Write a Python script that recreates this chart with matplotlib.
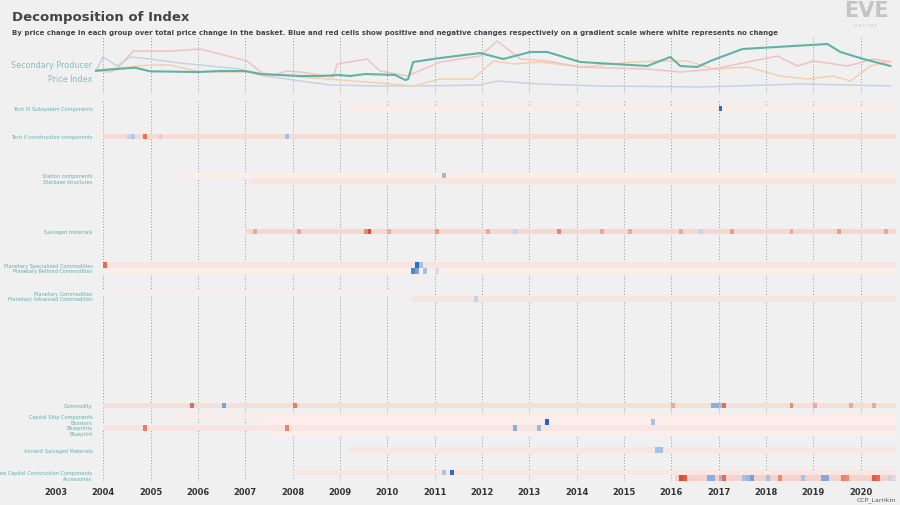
import numpy as np
import matplotlib
matplotlib.use("Agg")
import matplotlib.pyplot as plt
from matplotlib.colors import LinearSegmentedColormap

plt.rcParams["font.family"] = ["DejaVu Sans"]

W, H = 900, 506
BG = "#f0f0f0"
TEAL = "#5fb3a4"

# ---- top line chart: x pixel positions read -> converted to years, y as index value
def yr(px):
    return 2003 + (np.asarray(px, float) - 56) / 47.3

teal_x = [96,103,117,135,150,197,220,245,260,300,320,338,350,365,395,405,408,413,440,480,503,530,547,580,647,670,680,697,710,742,827,840,863,890]
teal_v = [71.7,71,70,68.7,72.3,73,72,72,75,77,77,76,77,75,76,81,80,63,59,54,60,53,53,63,67,58,67,68,62,50,45,53,60,67]
pink_x = [96,110,117,133,170,200,247,267,287,300,333,337,367,380,407,440,480,497,520,547,580,647,680,713,747,777,797,813,847,873,890]
pink_v = [72,73,70,52,52,50,62,78,72,73,78,65,60,72,77,63,57,42,60,62,68,70,73,70,63,57,67,62,67,60,63]
orng_x = [96,110,150,170,200,250,300,380,413,440,473,493,513,540,580,633,660,687,713,747,780,807,833,850,870,890]
orng_v = [72,70,66,66,73,73,78,84,87,80,80,62,65,63,68,63,62,62,70,68,77,80,77,82,67,62]
blue_x = [96,103,117,130,150,180,200,240,260,300,330,380,420,480,497,540,600,700,800,850,890]
blue_v = [72,58,67,58,60,64,66,70,76,82,86,87,87,86,82,85,87,88,85,86,87]

# ---- heatmap rows
n_rows = 68
row_labels = {
    1: "Tech III Subsystem Components", 6: "Tech II construction components",
    13: "Station components", 14: "Starbase structures", 23: "Salvaged materials",
    29: "Planetary Specialized Commodities", 30: "Planetary Refined Commodities",
    34: "Planetary Commodities", 35: "Planetary Advanced Commodities",
    54: "Commodity", 56: "Capital Ship Components", 57: "Boosters",
    58: "Blueprints", 59: "Blueprint", 62: "Ancient Salvaged Materials",
    66: "nced Capital Construction Components", 67: "Accessories",
}
# (row, start year, end year, base value)
row_spans = [
    (1, 2009.2, 2020.75, -0.07), (6, 2004.0, 2020.75, -0.12),
    (13, 2005.55, 2020.75, -0.06), (14, 2007.1, 2020.75, -0.09),
    (23, 2007.0, 2020.75, -0.14), (29, 2004.0, 2020.75, -0.09),
    (30, 2004.0, 2020.75, -0.06), (34, 2004.0, 2010.4, -0.07),
    (35, 2010.5, 2020.75, -0.09), (54, 2004.0, 2020.75, -0.11),
    (56, 2005.5, 2020.75, -0.07), (57, 2007.3, 2020.75, -0.06),
    (58, 2004.0, 2020.75, -0.09), (59, 2007.5, 2020.75, -0.06),
    (62, 2009.2, 2020.75, -0.09), (66, 2008.0, 2020.75, -0.08),
    (67, 2016.1, 2020.75, -0.15),
]
# notable cells (row, year, value)
cells = [
    (1, 2017.05, 0.9),
    (6, 2004.6, 0.25), (6, 2004.55, 0.2), (6, 2004.85, -0.55), (6, 2007.9, 0.3), (6, 2005.2, -0.2),
    (13, 2011.2, 0.35),
    (23, 2009.65, -0.8), (23, 2009.55, -0.4), (23, 2007.2, -0.3), (23, 2008.1, -0.3), (23, 2010.0, -0.3),
    (23, 2011.0, -0.35), (23, 2012.1, -0.3), (23, 2013.6, -0.45), (23, 2014.5, -0.3), (23, 2015.1, -0.3),
    (23, 2016.2, -0.3), (23, 2017.3, -0.35), (23, 2018.5, -0.3), (23, 2019.5, -0.35), (23, 2020.5, -0.3),
    (23, 2012.7, 0.2), (23, 2016.6, 0.2),
    (29, 2004.0, -0.6), (29, 2010.6, 0.9), (29, 2010.7, 0.3),
    (30, 2010.5, 0.7), (30, 2010.6, 0.5), (30, 2010.8, 0.3), (30, 2011.0, 0.15),
    (35, 2011.9, 0.2),
    (54, 2005.9, -0.6), (54, 2006.5, 0.5), (54, 2008.0, -0.5), (54, 2016.85, 0.4), (54, 2016.95, 0.4),
    (54, 2017.05, 0.3), (54, 2017.15, -0.6), (54, 2018.5, -0.4), (54, 2019.0, -0.3), (54, 2019.8, -0.3),
    (54, 2020.3, -0.3), (54, 2016.0, -0.3),
    (57, 2013.4, 0.95), (57, 2015.6, 0.3),
    (58, 2004.9, -0.5), (58, 2007.9, -0.45), (58, 2012.7, 0.4), (58, 2013.2, 0.35),
    (62, 2015.8, 0.3), (62, 2015.7, 0.3),
    (66, 2011.4, 0.9), (66, 2011.2, 0.3),
    (67, 2016.2, -0.8), (67, 2016.3, -0.7), (67, 2016.8, 0.4), (67, 2016.9, 0.4), (67, 2017.0, 0.35),
    (67, 2017.15, -0.6), (67, 2017.5, 0.3), (67, 2017.6, 0.35), (67, 2017.7, 0.5), (67, 2018.0, 0.3),
    (67, 2018.3, -0.4), (67, 2018.8, 0.3), (67, 2019.2, 0.45), (67, 2019.3, 0.45), (67, 2019.6, -0.45),
    (67, 2019.7, -0.4), (67, 2020.3, -0.7), (67, 2020.4, -0.6), (67, 2020.6, 0.2),
]
years = list(range(2003, 2021))

# ---- build matrix
n_cols = int(round((2020.75 - 2003) * 12))
edges = 2003 + np.arange(n_cols + 1) / 12
M = np.full((n_rows, n_cols), np.nan)
for r, s, e, b in row_spans:
    i0 = int(round((s - 2003) * 12)); i1 = int(round((e - 2003) * 12))
    M[r, i0:i1] = b
for r, t, v in cells:
    M[r, int((t - 2003) * 12)] = v

cmap = LinearSegmentedColormap.from_list("rb", [
    (0.0, "#d42e1c"), (0.3, "#f08a6e"), (0.44, "#f6dcd7"), (0.5, "#ffffff"),
    (0.56, "#dbe3f4"), (0.7, "#8aaee0"), (1.0, "#1a5fc4")])

fig = plt.figure(figsize=(W / 100, H / 100), dpi=100, facecolor=BG)
x0, x1 = 56 / W, 896 / W

# heatmap
ax = fig.add_axes([x0, 1 - 482 / H, x1 - x0, (482 - 101) / H], facecolor=BG)
ax.pcolormesh(edges, np.arange(n_rows + 1), M, cmap=cmap, vmin=-1, vmax=1)
ax.set_ylim(n_rows, 0)
ax.set_xlim(2003, 2020.75)
for y in years[1:]:
    ax.axvline(y, color="#999999", lw=0.7, ls=(0, (1, 2)), zorder=0)
ax.set_xticks(years)
ax.set_xticklabels([str(y) for y in years], fontsize=6, color="#333333", fontweight="bold")
ax.tick_params(axis="x", length=0, pad=4)
ax.set_yticks([])
for sp in ax.spines.values():
    sp.set_visible(False)
for r, lab in row_labels.items():
    ax.text(2003.77, r + 0.5, lab, ha="right", va="center", fontsize=3.6, color=TEAL, clip_on=False)

# top lines
axt = fig.add_axes([x0, 1 - 95 / H, x1 - x0, (95 - 38) / H], facecolor="none")
axt.set_xlim(2003, 2020.75)
axt.set_ylim(95, 38)
for y in years[1:]:
    axt.axvline(y, color="#999999", lw=0.7, ls=(0, (1, 2)), zorder=0)
axt.plot(yr(blue_x), blue_v, color="#c8d2e6", lw=1.1)
axt.plot(yr(orng_x), orng_v, color="#f5d0ad", lw=1.1)
axt.plot(yr(pink_x), pink_v, color="#f2c2c2", lw=1.1)
axt.plot(yr(teal_x), teal_v, color=TEAL, lw=1.5)
axt.axis("off")

fig.text(92 / W, 1 - 65 / H, "Secondary Producer", ha="right", va="center", fontsize=5.8, color="#7cc4b6")
fig.text(92 / W, 1 - 79 / H, "Price Index", ha="right", va="center", fontsize=5.8, color="#7cc4b6")

fig.text(12 / W, 1 - 18 / H, "Decomposition of Index", fontsize=9.5, fontweight="bold", color="#444444", va="center")
fig.text(12 / W, 1 - 33 / H, "By price change in each group over total price change in the basket. Blue and red cells show positive and negative changes respectively on a gradient scale where white represents no change",
         fontsize=5.0, fontweight="bold", color="#444444", va="center")
fig.text(866 / W, 1 - 11 / H, "EVE", fontsize=15, fontweight="bold", color="#c4c4c4", ha="center", va="center")
fig.text(866 / W, 1 - 26 / H, "O N L I N E", fontsize=3.2, color="#c4c4c4", ha="center", va="center")
fig.text(896 / W, 1 - 500 / H, "CCP_Larrikin", fontsize=4.5, color="#555555", ha="right", va="center")

fig.savefig("out.png", dpi=100, facecolor=BG)
